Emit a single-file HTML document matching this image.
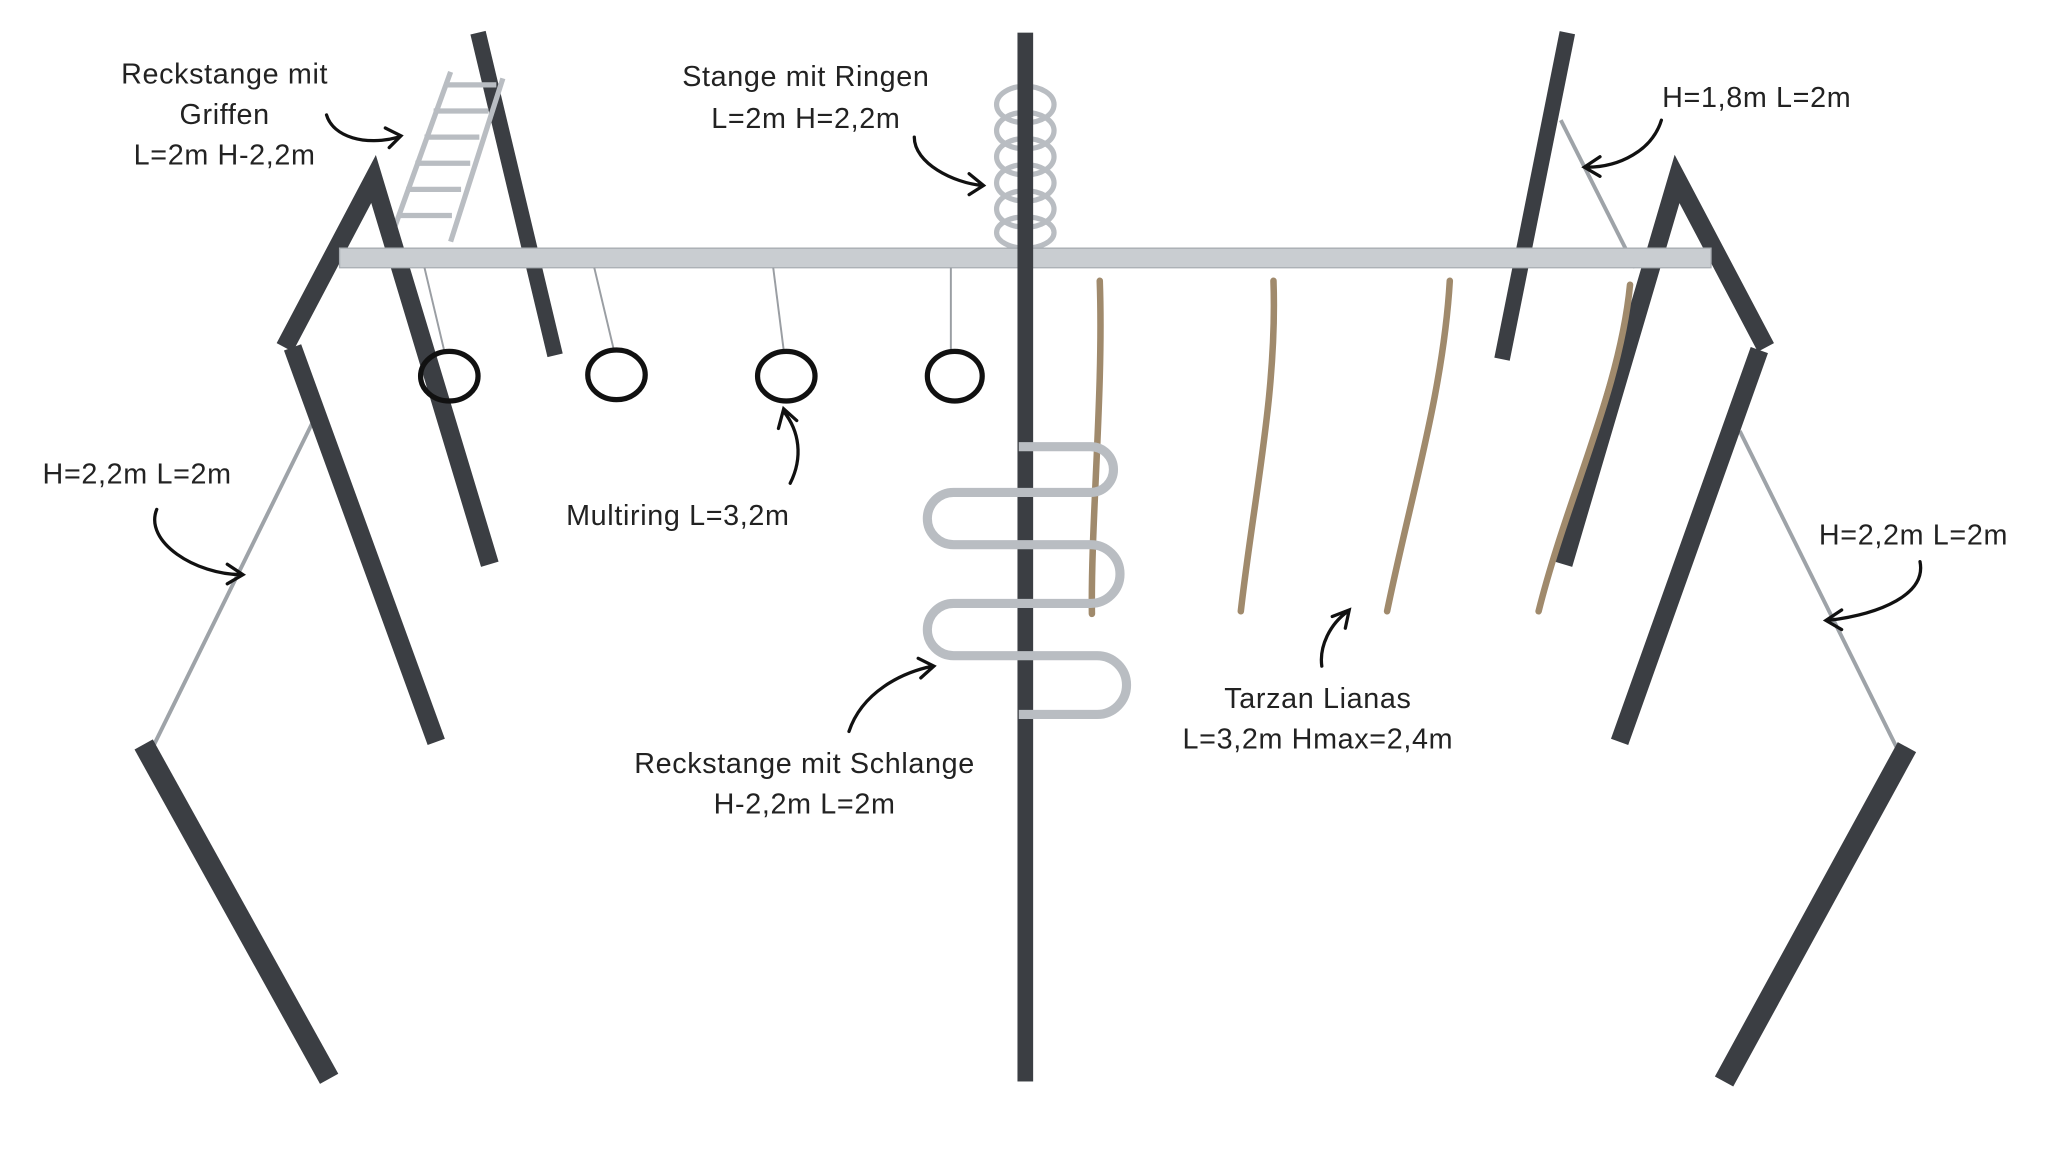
<!DOCTYPE html>
<html><head><meta charset="utf-8"><style>
html,body{margin:0;padding:0;background:#fff;width:2048px;height:1152px;overflow:hidden}
svg{display:block}
text{font-family:"Liberation Sans",sans-serif;font-size:22px;fill:#222;letter-spacing:0.5px}
</style></head><body>
<svg width="2048" height="1152" viewBox="0 0 1568 882" xmlns="http://www.w3.org/2000/svg">
<rect width="1568" height="882" fill="#fff"/>
<g stroke-linecap="butt">
<line x1="366" y1="25" x2="425" y2="272" stroke="#3b3e43" stroke-width="12"/>
<line x1="1200" y1="25" x2="1150" y2="275" stroke="#3b3e43" stroke-width="12"/>
<line x1="1195" y1="92" x2="1252" y2="205" stroke="#9ea3a8" stroke-width="3"/>
<line x1="240" y1="322" x2="118" y2="570" stroke="#9ea3a8" stroke-width="3"/>
<line x1="1332" y1="330" x2="1452" y2="572" stroke="#9ea3a8" stroke-width="3"/>
<g stroke="#b9bdc2" stroke-width="4" fill="none">
<line x1="345" y1="55" x2="300" y2="180"/><line x1="385" y1="60" x2="345" y2="185"/>
<path d="M340 65h40M332 85h42M325 105h42M318 125h42M311 145h42M304 165h42"/>
</g>
<g stroke="#b9bdc2" stroke-width="4" fill="none">
<ellipse cx="785" cy="80" rx="22" ry="14"/><ellipse cx="785" cy="100" rx="22" ry="14"/>
<ellipse cx="785" cy="120" rx="22" ry="14"/><ellipse cx="785" cy="140" rx="22" ry="14"/>
<ellipse cx="785" cy="160" rx="22" ry="14"/><ellipse cx="785" cy="178" rx="22" ry="12"/>
</g>
<!-- left frame -->
<polyline points="218,266 286,137 375,432" fill="none" stroke="#3b3e43" stroke-width="14" stroke-linejoin="miter"/>
<line x1="224" y1="266" x2="334" y2="568" stroke="#3b3e43" stroke-width="14"/>
<!-- right frame -->
<polyline points="1352,266 1284,137 1197,432" fill="none" stroke="#3b3e43" stroke-width="14" stroke-linejoin="miter"/>
<line x1="1347" y1="268" x2="1240" y2="568" stroke="#3b3e43" stroke-width="14"/>
<polygon points="260,190 1310,190 1310,205 260,205" fill="#c9cdd1" stroke="#a8adb2" stroke-width="1"/>
<g stroke="#9a9ea3" stroke-width="1.5">
<line x1="325" y1="205" x2="340" y2="268"/><line x1="455" y1="205" x2="470" y2="268"/>
<line x1="592" y1="205" x2="600" y2="268"/><line x1="728" y1="205" x2="728" y2="268"/>
</g>
<g stroke="#111" stroke-width="4" fill="none">
<ellipse cx="344" cy="288" rx="22" ry="19"/><ellipse cx="472" cy="287" rx="22" ry="19"/>
<ellipse cx="602" cy="288" rx="22" ry="19"/><ellipse cx="731" cy="288" rx="21" ry="19"/>
</g>
<g stroke="#a08a6c" stroke-width="5" fill="none" stroke-linecap="round">
<path d="M842 215 C845 300 835 400 836 470"/>
<path d="M975 215 C978 300 960 380 950 468"/>
<path d="M1110 215 C1105 300 1080 380 1062 468"/>
<path d="M1248 218 C1240 300 1200 380 1178 468"/>
</g>
<rect x="779" y="25" width="12" height="803" fill="#3b3e43"/>
<path d="M780 342 H835 a13 13 0 0 1 0 35 H730 a13 13 0 0 0 0 40 H835 a13 13 0 0 1 0 45 H730 a13 13 0 0 0 0 40 H840 a13 13 0 0 1 0 45 H780" fill="none" stroke="#b9bdc2" stroke-width="7"/>
<line x1="110" y1="570" x2="252" y2="826" stroke="#3b3e43" stroke-width="16"/>
<line x1="1460" y1="572" x2="1320" y2="828" stroke="#3b3e43" stroke-width="16"/>
</g>
<g stroke="#111" stroke-width="2.5" fill="none" stroke-linecap="round">
<path d="M250 88 C255 105 280 112 305 105 M295 98 L307 104 L298 113"/>
<path d="M700 105 C700 125 730 140 752 142 M742 133 L753 142 L742 149"/>
<path d="M1272 92 C1265 115 1240 128 1215 128 M1225 120 L1213 128 L1225 135"/>
<path d="M120 390 C110 415 150 440 185 440 M174 432 L186 440 L174 447"/>
<path d="M605 370 C615 350 612 330 600 315 M596 328 L600 313 L610 322"/>
<path d="M1470 430 C1475 455 1440 470 1400 475 M1410 467 L1398 475 L1410 482"/>
<path d="M1012 510 C1010 495 1018 478 1032 468 M1020 472 L1033 467 L1030 481"/>
<path d="M650 560 C660 530 690 515 714 510 M703 504 L715 510 L705 519"/>
</g>
<g text-anchor="middle">
<text x="172" y="64">Reckstange mit</text><text x="172" y="95">Griffen</text><text x="172" y="126">L=2m H-2,2m</text>
<text x="617" y="66">Stange mit Ringen</text><text x="617" y="98">L=2m H=2,2m</text>
<text x="1345" y="82">H=1,8m L=2m</text>
<text x="105" y="370">H=2,2m L=2m</text>
<text x="519" y="402">Multiring L=3,2m</text>
<text x="1465" y="417">H=2,2m L=2m</text>
<text x="1009" y="542">Tarzan Lianas</text><text x="1009" y="573">L=3,2m Hmax=2,4m</text>
<text x="616" y="592">Reckstange mit Schlange</text><text x="616" y="623">H-2,2m L=2m</text>
</g>
</svg>
</body></html>
